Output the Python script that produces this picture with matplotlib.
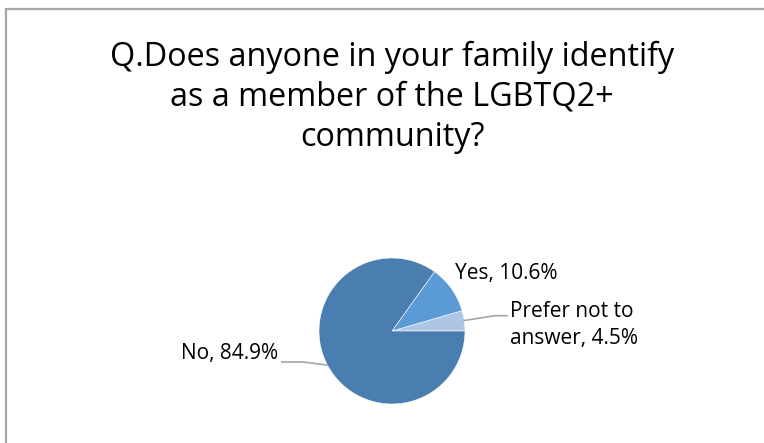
import matplotlib
matplotlib.use("Agg")
import matplotlib.pyplot as plt
from matplotlib.patches import Rectangle

# Survey responses
categories = ["Prefer not to\nanswer", "Yes", "No"]
shares = [4.5, 10.6, 84.9]
colors = ["#adc6e6", "#5b9bd5", "#4a7eb0"]
title = "Q.Does anyone in your family identify\nas a member of the LGBTQ2+\ncommunity?"

W, H = 764, 443
fig = plt.figure(figsize=(W / 100, H / 100), dpi=100)
ax = fig.add_axes([0, 0, 1, 1])

font = "Open Sans"

cx, cy, r = 392, H - 331, 73
wedges, _ = ax.pie(shares, colors=colors, startangle=0, counterclock=True,
                   center=(cx, cy), radius=r, frame=True,
                   wedgeprops=dict(edgecolor="white", linewidth=0.4))
ax.set_xlim(0, W)
ax.set_ylim(0, H)
ax.set_aspect("equal")
ax.axis("off")

# chart frame
ax.add_patch(Rectangle((6, -10), W + 10, H - 9 + 10, fill=False,
                       edgecolor="#a6a6a6", linewidth=1.6))

ax.text(392, H - 97, title, ha="center", va="center", fontsize=23.3,
        family=font, color="#000000", linespacing=1.28)

lab = [f"{c}, {v}%" for c, v in zip(categories, shares)]
fs = 15
ax.text(278, H - 354, lab[2], ha="right", va="center", fontsize=fs, family=font)
ax.text(455, H - 273, lab[1], ha="left", va="center", fontsize=fs, family=font)
ax.text(510, H - 325, lab[0], ha="left", va="center", fontsize=fs,
        family=font, linespacing=1.43)

lc = "#a6a6a6"
ax.plot([282, 303, 327], [H - 362, H - 362, H - 365], color=lc, lw=1.2)
ax.plot([464, 495, 507], [H - 320.5, H - 315.7, H - 315.7], color=lc, lw=1.2)

fig.savefig("out.png", dpi=100, facecolor="white")
